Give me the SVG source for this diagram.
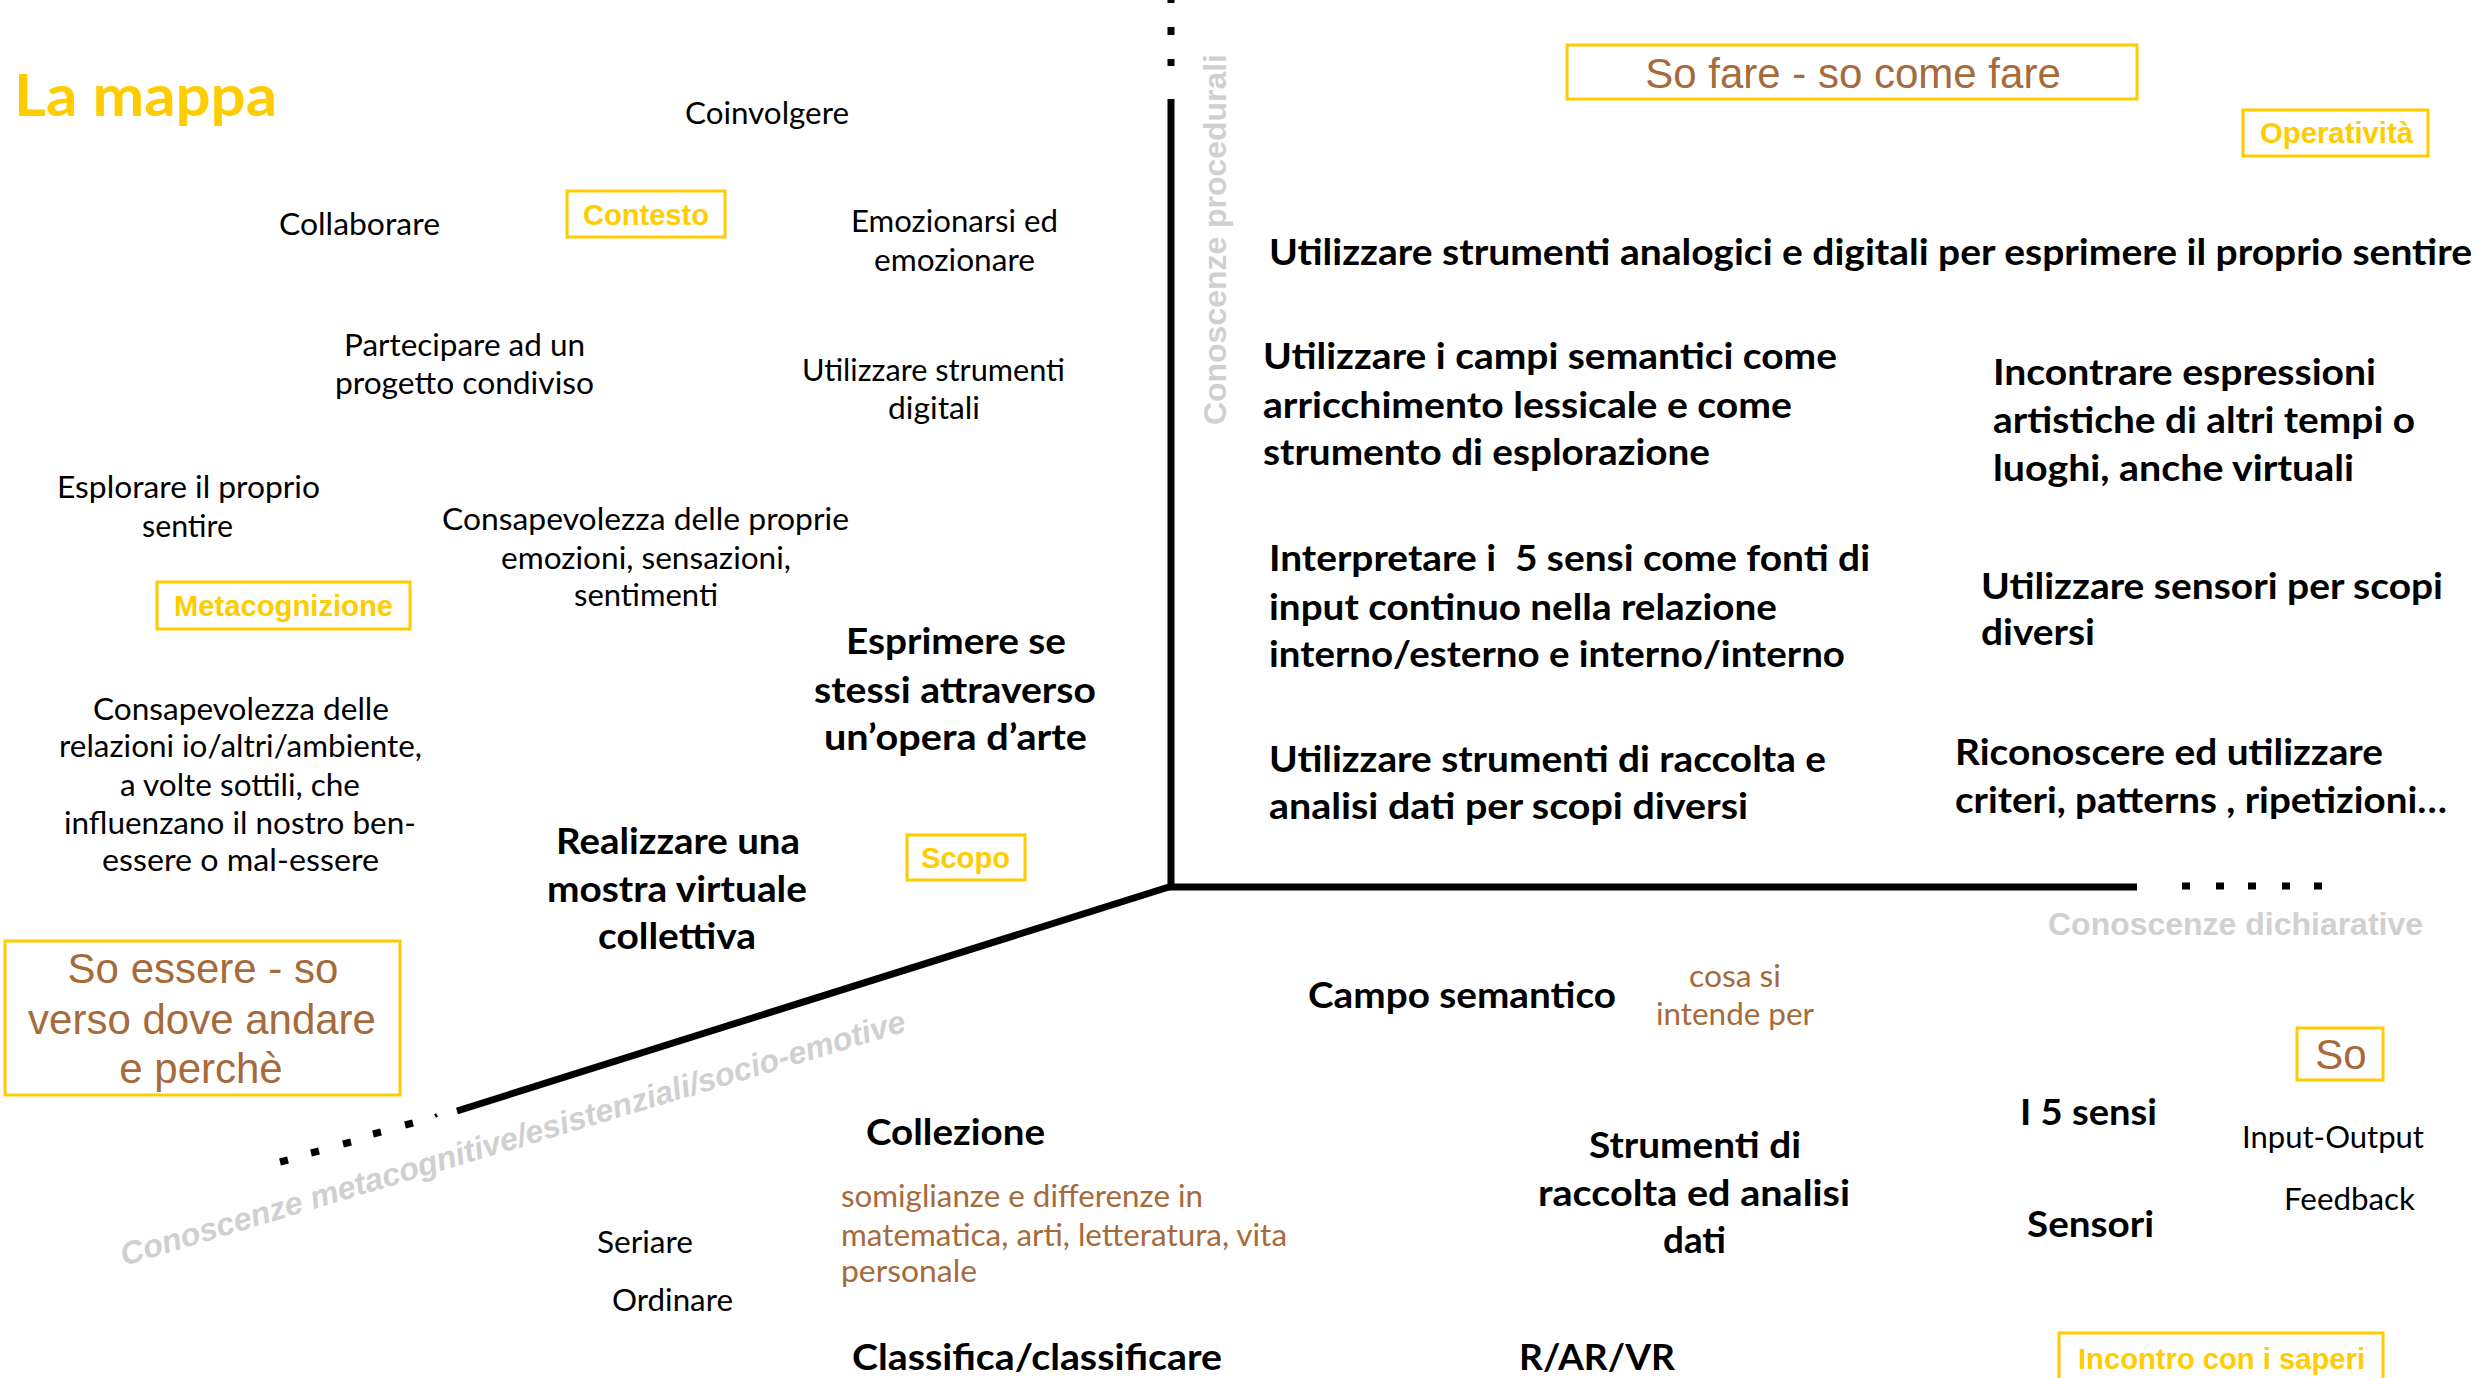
<svg xmlns="http://www.w3.org/2000/svg" width="2479" height="1378" viewBox="0 0 2479 1378">
<style>
.r{font-family:Lato,'Open Sans',sans-serif;font-size:30px;fill:#000;transform:translateY(2px)}
.b{font-family:Lato,'Open Sans',sans-serif;font-weight:700;font-size:37px;fill:#000;transform:translateY(2px)}
.br{fill:#A66A3B}
.lbl{font-family:'Liberation Sans',Arial,sans-serif;font-weight:700;font-size:29px;fill:#FFCC00}
.bx{fill:none;stroke:#FFCC00;stroke-width:3}
.so{font-family:'Liberation Sans',Arial,sans-serif;font-size:42px;fill:#A66A3B}
.gr{font-family:'Liberation Sans',Arial,sans-serif;font-weight:700;font-size:32px;fill:#D0D0D0}
.ax{stroke:#000;stroke-width:7;fill:none}
.dot{stroke:#000;stroke-width:7}
.title{font-family:Lato,'Open Sans',sans-serif;font-weight:700;font-size:57px;fill:#FFCC00}
text{white-space:pre}
</style>
<rect width="2479" height="1378" fill="#fff"/>

<g id="connectors">
  <line class="ax" x1="1171" y1="99" x2="1171" y2="890"/>
  <line class="ax" x1="1168" y1="887" x2="2137" y2="887"/>
  <line class="ax" x1="1172" y1="886" x2="457" y2="1111"/>
  <line class="dot" x1="1171" y1="-4" x2="1171" y2="3"/>
  <line class="dot" x1="1171" y1="27" x2="1171" y2="35"/>
  <line class="dot" x1="1171" y1="59" x2="1171" y2="66"/>
  <line class="dot" x1="2182" y1="886" x2="2190" y2="886"/>
  <line class="dot" x1="2216" y1="886" x2="2224" y2="886"/>
  <line class="dot" x1="2248" y1="886" x2="2256" y2="886"/>
  <line class="dot" x1="2282" y1="886" x2="2290" y2="886"/>
  <line class="dot" x1="2314" y1="886" x2="2322" y2="886"/>
  <line class="dot" x1="288" y1="1160" x2="280" y2="1162"/>
  <line class="dot" x1="319" y1="1151" x2="311" y2="1153"/>
  <line class="dot" x1="351" y1="1142" x2="343" y2="1144"/>
  <line class="dot" x1="381" y1="1132" x2="373" y2="1134"/>
  <line class="dot" x1="413" y1="1123" x2="405" y2="1125"/>
  <line x1="437" y1="1115" x2="435" y2="1116" stroke="#000" stroke-width="4"/>
</g>

<g id="axis-labels">
  <text class="gr" transform="translate(1226,425) rotate(-90)" textLength="371" lengthAdjust="spacingAndGlyphs">Conoscenze procedurali</text>
  <text class="gr" x="2048" y="935" textLength="375" lengthAdjust="spacingAndGlyphs">Conoscenze dichiarative</text>
  <text class="gr" font-style="italic" transform="translate(124,1266) rotate(-16.7)" textLength="818" lengthAdjust="spacingAndGlyphs">Conoscenze metacognitive/esistenziali/socio-emotive</text>
</g>

<g id="title"><text class="title" x="14" y="116" textLength="263" lengthAdjust="spacingAndGlyphs">La mappa</text></g>

<g id="coinvolgere"><text class="r" x="685" y="122" textLength="164" lengthAdjust="spacingAndGlyphs">Coinvolgere</text></g>
<g id="collaborare"><text class="r" x="279" y="233" textLength="161" lengthAdjust="spacingAndGlyphs">Collaborare</text></g>
<g id="contesto"><rect class="bx" x="567" y="191" width="158" height="46"/><text class="lbl" x="583" y="225" textLength="126" lengthAdjust="spacingAndGlyphs">Contesto</text></g>
<g id="emozionarsi">
  <text class="r" x="851" y="230" textLength="207" lengthAdjust="spacingAndGlyphs">Emozionarsi ed</text>
  <text class="r" x="874" y="269" textLength="161" lengthAdjust="spacingAndGlyphs">emozionare</text>
</g>
<g id="partecipare">
  <text class="r" x="344" y="354" textLength="241" lengthAdjust="spacingAndGlyphs">Partecipare ad un</text>
  <text class="r" x="335" y="392" textLength="259" lengthAdjust="spacingAndGlyphs">progetto condiviso</text>
</g>
<g id="strumenti-digitali">
  <text class="r" x="802" y="379" textLength="263" lengthAdjust="spacingAndGlyphs">Utilizzare strumenti</text>
  <text class="r" x="888" y="417" textLength="92" lengthAdjust="spacingAndGlyphs">digitali</text>
</g>
<g id="esplorare">
  <text class="r" x="57" y="496" textLength="263" lengthAdjust="spacingAndGlyphs">Esplorare il proprio</text>
  <text class="r" x="142" y="535" textLength="91" lengthAdjust="spacingAndGlyphs">sentire</text>
</g>
<g id="consapevolezza-emozioni">
  <text class="r" x="442" y="528" textLength="407" lengthAdjust="spacingAndGlyphs">Consapevolezza delle proprie</text>
  <text class="r" x="501" y="567" textLength="290" lengthAdjust="spacingAndGlyphs">emozioni, sensazioni,</text>
  <text class="r" x="574" y="604" textLength="144" lengthAdjust="spacingAndGlyphs">sentimenti</text>
</g>
<g id="metacognizione"><rect class="bx" x="157" y="582" width="253" height="47"/><text class="lbl" x="174" y="616" textLength="219" lengthAdjust="spacingAndGlyphs">Metacognizione</text></g>
<g id="esprimere">
  <text class="b" x="846" y="652" textLength="220" lengthAdjust="spacingAndGlyphs">Esprimere se</text>
  <text class="b" x="814" y="701" textLength="282" lengthAdjust="spacingAndGlyphs">stessi attraverso</text>
  <text class="b" x="824" y="748" textLength="263" lengthAdjust="spacingAndGlyphs">un’opera d’arte</text>
</g>
<g id="consapevolezza-relazioni">
  <text class="r" x="93" y="718" textLength="296" lengthAdjust="spacingAndGlyphs">Consapevolezza delle</text>
  <text class="r" x="59" y="755" textLength="363" lengthAdjust="spacingAndGlyphs">relazioni io/altri/ambiente,</text>
  <text class="r" x="120" y="794" textLength="240" lengthAdjust="spacingAndGlyphs">a volte sottili, che</text>
  <text class="r" x="64" y="832" textLength="352" lengthAdjust="spacingAndGlyphs">influenzano il nostro ben-</text>
  <text class="r" x="102" y="869" textLength="277" lengthAdjust="spacingAndGlyphs">essere o mal-essere</text>
</g>
<g id="realizzare">
  <text class="b" x="556" y="852" textLength="244" lengthAdjust="spacingAndGlyphs">Realizzare una</text>
  <text class="b" x="547" y="900" textLength="260" lengthAdjust="spacingAndGlyphs">mostra virtuale</text>
  <text class="b" x="598" y="947" textLength="158" lengthAdjust="spacingAndGlyphs">collettiva</text>
</g>
<g id="scopo"><rect class="bx" x="907" y="835" width="118" height="45"/><text class="lbl" x="921" y="868" textLength="89" lengthAdjust="spacingAndGlyphs">Scopo</text></g>
<g id="so-essere">
  <rect class="bx" x="5" y="941" width="395" height="154"/>
  <text class="so" x="203" y="983" text-anchor="middle">So essere - so</text>
  <text class="so" x="202" y="1034" text-anchor="middle">verso dove andare</text>
  <text class="so" x="201" y="1083" text-anchor="middle">e perchè</text>
</g>

<g id="so-fare"><rect class="bx" x="1567" y="45" width="570" height="54"/><text class="so" x="1853" y="88" text-anchor="middle">So fare - so come fare</text></g>
<g id="operativita"><rect class="bx" x="2243" y="110" width="185" height="46"/><text class="lbl" x="2260" y="143" textLength="153" lengthAdjust="spacingAndGlyphs">Operatività</text></g>
<g id="analogici"><text class="b" x="1269" y="263" textLength="1203" lengthAdjust="spacingAndGlyphs">Utilizzare strumenti analogici e digitali per esprimere il proprio sentire</text></g>
<g id="campi-semantici">
  <text class="b" x="1263" y="367" textLength="574" lengthAdjust="spacingAndGlyphs">Utilizzare i campi semantici come</text>
  <text class="b" x="1263" y="416" textLength="529" lengthAdjust="spacingAndGlyphs">arricchimento lessicale e come</text>
  <text class="b" x="1263" y="463" textLength="447" lengthAdjust="spacingAndGlyphs">strumento di esplorazione</text>
</g>
<g id="incontrare">
  <text class="b" x="1993" y="383" textLength="383" lengthAdjust="spacingAndGlyphs">Incontrare espressioni</text>
  <text class="b" x="1993" y="431" textLength="422" lengthAdjust="spacingAndGlyphs">artistiche di altri tempi o</text>
  <text class="b" x="1993" y="479" textLength="361" lengthAdjust="spacingAndGlyphs">luoghi, anche virtuali</text>
</g>
<g id="interpretare">
  <text class="b" x="1269" y="569" textLength="601" lengthAdjust="spacingAndGlyphs">Interpretare i  5 sensi come fonti di</text>
  <text class="b" x="1269" y="618" textLength="508" lengthAdjust="spacingAndGlyphs">input continuo nella relazione</text>
  <text class="b" x="1269" y="665" textLength="576" lengthAdjust="spacingAndGlyphs">interno/esterno e interno/interno</text>
</g>
<g id="sensori-scopi">
  <text class="b" x="1981" y="597" textLength="462" lengthAdjust="spacingAndGlyphs">Utilizzare sensori per scopi</text>
  <text class="b" x="1981" y="643" textLength="114" lengthAdjust="spacingAndGlyphs">diversi</text>
</g>
<g id="raccolta-analisi">
  <text class="b" x="1269" y="770" textLength="557" lengthAdjust="spacingAndGlyphs">Utilizzare strumenti di raccolta e</text>
  <text class="b" x="1269" y="817" textLength="479" lengthAdjust="spacingAndGlyphs">analisi dati per scopi diversi</text>
</g>
<g id="riconoscere">
  <text class="b" x="1955" y="763" textLength="428" lengthAdjust="spacingAndGlyphs">Riconoscere ed utilizzare</text>
  <text class="b" x="1955" y="811" textLength="492" lengthAdjust="spacingAndGlyphs">criteri, patterns , ripetizioni…</text>
</g>

<g id="campo-semantico"><text class="b" x="1308" y="1006" textLength="308" lengthAdjust="spacingAndGlyphs">Campo semantico</text></g>
<g id="cosa-si">
  <text class="r br" x="1689" y="985" textLength="92" lengthAdjust="spacingAndGlyphs">cosa si</text>
  <text class="r br" x="1656" y="1023" textLength="158" lengthAdjust="spacingAndGlyphs">intende per</text>
</g>
<g id="so"><rect class="bx" x="2297" y="1028" width="86" height="52"/><text class="so" x="2341" y="1069" text-anchor="middle">So</text></g>
<g id="cinque-sensi"><text class="b" x="2020" y="1123" textLength="137" lengthAdjust="spacingAndGlyphs">I 5 sensi</text></g>
<g id="input-output"><text class="r" x="2242" y="1146" textLength="182" lengthAdjust="spacingAndGlyphs">Input-Output</text></g>
<g id="feedback"><text class="r" x="2284" y="1208" textLength="131" lengthAdjust="spacingAndGlyphs">Feedback</text></g>
<g id="sensori"><text class="b" x="2027" y="1235" textLength="127" lengthAdjust="spacingAndGlyphs">Sensori</text></g>
<g id="strumenti-raccolta">
  <text class="b" x="1589" y="1156" textLength="212" lengthAdjust="spacingAndGlyphs">Strumenti di</text>
  <text class="b" x="1538" y="1204" textLength="312" lengthAdjust="spacingAndGlyphs">raccolta ed analisi</text>
  <text class="b" x="1663" y="1251" textLength="63" lengthAdjust="spacingAndGlyphs">dati</text>
</g>
<g id="rarvr"><text class="b" x="1519" y="1368" textLength="156" lengthAdjust="spacingAndGlyphs">R/AR/VR</text></g>
<g id="incontro-saperi"><rect class="bx" x="2059" y="1333" width="324" height="60"/><text class="lbl" x="2078" y="1369" textLength="287" lengthAdjust="spacingAndGlyphs">Incontro con i saperi</text></g>

<g id="collezione"><text class="b" x="866" y="1143" textLength="179" lengthAdjust="spacingAndGlyphs">Collezione</text></g>
<g id="somiglianze">
  <text class="r br" x="841" y="1205" textLength="362" lengthAdjust="spacingAndGlyphs">somiglianze e differenze in</text>
  <text class="r br" x="841" y="1244" textLength="446" lengthAdjust="spacingAndGlyphs">matematica, arti, letteratura, vita</text>
  <text class="r br" x="841" y="1280" textLength="136" lengthAdjust="spacingAndGlyphs">personale</text>
</g>
<g id="seriare"><text class="r" x="597" y="1251" textLength="96" lengthAdjust="spacingAndGlyphs">Seriare</text></g>
<g id="ordinare"><text class="r" x="612" y="1309" textLength="121" lengthAdjust="spacingAndGlyphs">Ordinare</text></g>
<g id="classifica"><text class="b" x="852" y="1368" textLength="370" lengthAdjust="spacingAndGlyphs">Classifica/classificare</text></g>
</svg>
